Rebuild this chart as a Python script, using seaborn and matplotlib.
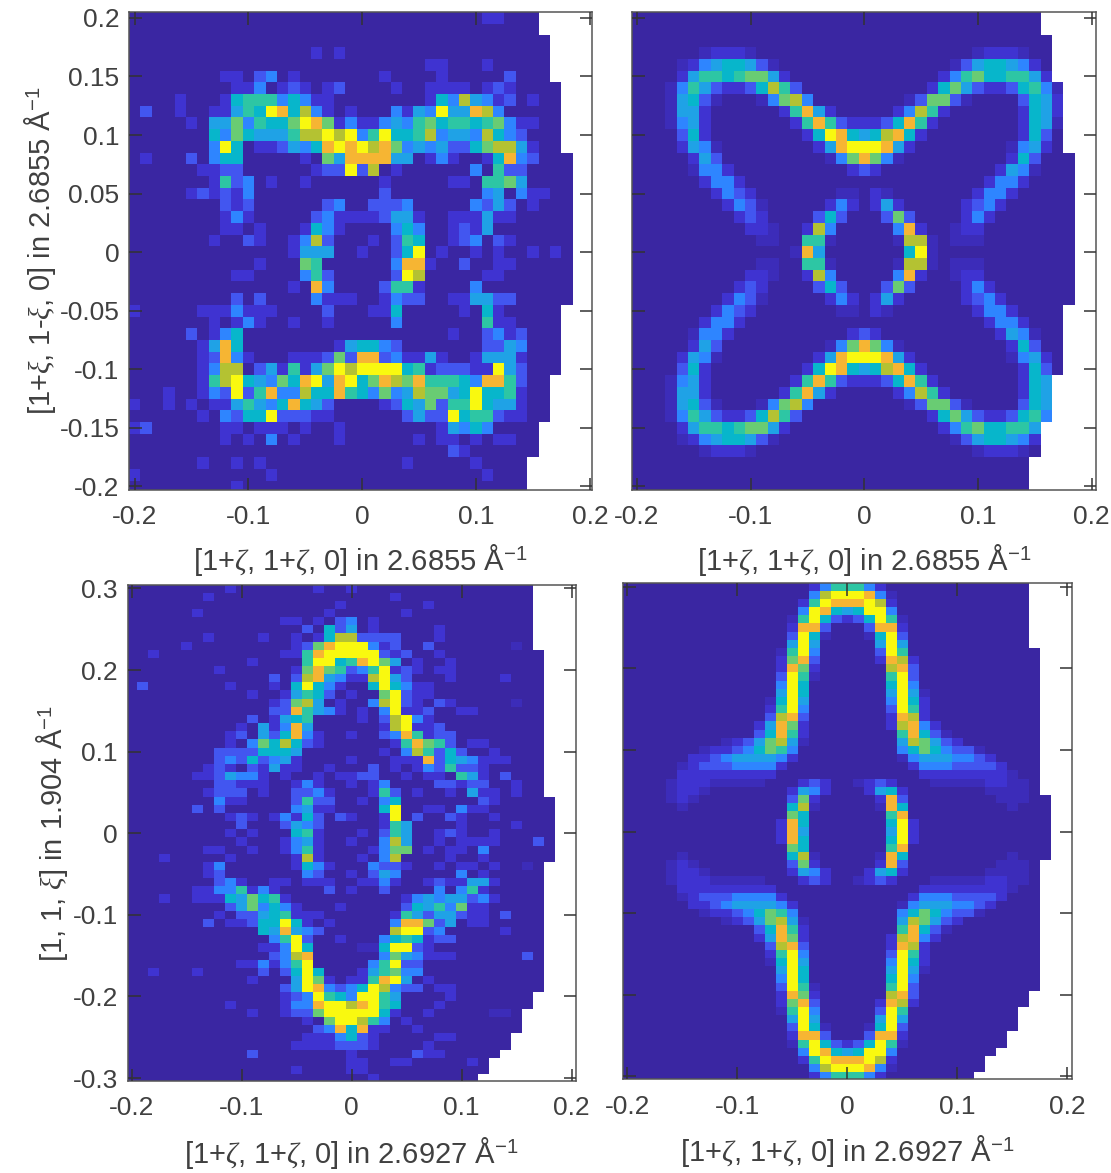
import numpy as np
import pandas as pd
import matplotlib
matplotlib.use("Agg")
import matplotlib.pyplot as plt
from matplotlib.colors import LinearSegmentedColormap
import seaborn as sns

# Intensity levels read per cell: 0-9, a=10, x=0.5; short rows continue with 0, cells past the row width are empty
WIDTHS_TOP = [36]*2 + [37]*4 + [38]*6 + [39]*13 + [38]*6 + [37]*4 + [36]*3 + [35]*3
WIDTHS_BOTTOM = [37]*8 + [38]*18 + [39]*8 + [38]*16 + [37]*2 + [36]*3 + [35]*2 + [34] + [33]*2 + [32]

ROWS_A = [
"00000 00000 00000 00000 00000 00000 01100",
"",
"",
"00000 00000 00000 01010",
"00000 00000 00000 00000 00000 01100 01000",
"00000 00011 02301 00000 00100 00100 00020",
"00000 00001 13012 10120 00010 01111 01210",
"00001 00015 66635 31100 00000 01538 43120 10000",
"02001 00114 65a95 83101 00031 43a44 98300",
"00000 10447 36557 a9713 11343 67566 56731 10000",
"00000 00537 54446 88a8a 36a55 68344 38532",
"00000 003a5 01124 359a9 a8973 43422 57884 10000",
"01000 20355 00000 10749 99944 01310 01593 20000",
"00000 01122 00000 0122a 28010 00000 30622",
"00000 00162 30100 10000 00100 00011 06674",
"00000 12121 30000 00000 00200 00000 03403 11000",
"00000 00021 20000 00230 02223 00000 32420 10000",
"00000 00013 10000 02311 11244 10011 14110",
"00000 00011 01000 15310 00035 30012 14000",
"00000 00100 21001 38200 01026 50012 30210",
"00000 00000 00001 44400 10025 a0100 10100 10100",
"00000 00000 01000 76000 00039 91002 00110",
"00000 00001 10000 36200 0002a 80000 01100",
"00000 00000 00001 09300 00266 10000 30000",
"00000 00002 02000 03111 00132 20011 44220",
"10000 01113 11100 00200 01150 00001 05100",
"00000 00101 31001 00100 00030 00000 06110",
"00000 20135 00000 00000 00000 00010 02312",
"00000 01495 00000 00014 55320 00000 02243",
"00000 01293 10001 11272 99231 14100 14441",
"00000 01388 02416 147a8 aaaa5 61222 11a42",
"00000 0168a 54375 9a49a 57987 96665 39962",
"00010 0132a 26933 85596 53734 87745 a5561",
"10010 10114 64359 54200 00125 47266 a5441",
"00000 01032 55a22 21100 00002 422a5 66211",
"12000 00011 01110 10010 00000 00143 53000",
"00000 00010 10301 00010 00000 10110 10110",
"00000 00000 00000 00000 00000 00021",
"00000 01001 01000 00000 00001 00000 10000",
"10000 00000 00100 00000 00000 00000 01000",
"00000 00001",
]

B_UPPER = [
"", "", "",
"00000 0x111 x0000 00000 00000 00000 x111x",
"0000x 13455 42x00 00000 00000 000x2 45543 1",
"00001 46656 77410 00000 00000 00136 75566 41",
"000x3 64211 25862 00000 00000 01574 21125 63x",
"000x4 52x00 0x378 30000 0000x 2772x 00002 541",
"000x4 41000 00016 94100 00013 86100 00001 541",
"000x3 41000 00001 69621 11259 61000 00001 54x",
"00002 51000 00000 15a95 45895 10000 00001 52",
"00001 43x00 00000 0149a aa941 00000 000x3 41",
"00000 14200 00000 00x37 973x0 00000 00015 2",
"00000 x3310 00000 00001 21000 00000 00143 x",
"00000 01331 00000 00000 00000 00000 01331",
"00000 00132 10000 000xx 01x00 00000 13310",
"00000 00013 2x000 00131 01410 00001 23100",
"00000 00001 21000 02520 00272 00001 31000",
"00000 00000 11x00 18300 00039 100x1 10000",
"00000 00000 0xx00 66x00 000x8 8x0xx x0000",
]
B_MIDDLE = ["00000 00000 0000x 94000 00005 ax000"]
ROWS_B = B_UPPER + B_MIDDLE + B_UPPER[::-1]

ROWS_C = [
"00000 00001 00000 00100 10000",
"00000 00100 00000 00000 00001",
"00000 00000 00000 00001 00000 00100",
"00000 01000 00000 00010 00000 10000",
"00000 00000 00001 10102 30100",
"00000 00000 00000 02052 40100 00010",
"00000 00100 00100 10158 82222 00010",
"00000 10000 00000 1279a aa312 00200 00000 x0000",
"00100 00000 00001 169aa aaa21 20010",
"00000 00000 01000 06aa5 69a74 01001",
"00000 00010 00000 17976 236a1 21011",
"00000 00000 00020 28943 118a4 20001 00001",
"02000 00001 00010 5a531 005a5 31100",
"00000 00000 01001 46520 1007a 21100",
"00000 00000 00012 78401 0038a 21021 00000 x0000",
"00000 00000 00022 96431 0103a 11200 11000",
"00000 00000 02014 56000 01028 a3100",
"00000 00000 10413 94000 00018 a1120",
"00000 00001 20425 93100 10023 96122",
"00000 00001 03758 52100 00001 69762 01100",
"00000 00022 22555 40000 00010 38625 20010",
"00000 00023 25234 10000 10001 11925 43111",
"00000 00121 02141 10010 00201 01326 22100",
"00000 01124 33101 00101 12200 10110 64102",
"00000 00022 11100 13100 10130 00022 12200 10000",
"00000 00122 20100 22310 00162 01001 04110 10000",
"00000 00031 10000 26220 01035 00000 00210",
"00000 02020 00000 34110 0005a 00110 31100",
"00000 00001 21013 15202 1001a 02002 10010",
"00000 00000 20002 43200 00016 40000 10000 10000",
"00000 00001 01000 56100 01026 40012 10010",
"00000 00000 10001 34100 10038 40010 11110 00200",
"00000 00110 01001 36100 00137 70101 10300",
"00010 00001 00000 18100 01038 00001 00100",
"00000 00130 00000 15310 00322 10010 11010 0x000",
"00000 00120 00000 03200 10243 00000 30100",
"00000 00023 10011 01110 01131 00121 14410",
"00000 01133 61310 00020 10020 00030 36100",
"00010 01115 47561 00000 00000 13434 42310",
"00000 00002 47353 10001 00000 25463 71100",
"00000 00010 22456 11100 00001 64244 21102",
"00000 00201 1255a 51010 00003 99724 01100",
"00000 00000 00549 43200 00008 aa230 00001",
"00000 00000 00036 a2001 00035 65122",
"00000 00000 00113 a5000 0xx5a a2100",
"00000 00000 00023 89000 00037 43111 00000 02000",
"00000 00000 11313 6a000 0036a 22000",
"00100 01000 00202 5a500 01467 33000",
"00000 00000 01000 4a710 1169a 40100",
"00000 00000 00002 4a932 35a83 22011",
"00000 00000 00001 23a65 3aa64 00001",
"00000 00001 00001 339aa 89a65 00010",
"00000 00000 01001 227aa aaa51 00100 000xx",
"00000 00000 00000 0107a a8630 10000",
"00000 00000 00000 00239 59110 01000",
"00000 00000 00000 01113 52100 00011",
"00000 00000 00000 11112 22100 00100",
"00000 00000 02000 00000 10000 02110",
"00000 00000 00000 00000 11001 10000 01000",
"00000 00000 00000 10000 11000",
"00000 00000 00000 00000 00100",
]

D_UPPER = [
"00000 00000 00000 00136 66310",
"00000 00000 00000 0038a aa93x",
"00000 00000 00000 016a9 99a81",
"00000 00000 00000 03a95 45aa3",
"00000 00000 00000 x6a52 125a6 x",
"00000 00000 00000 19920 00299 1",
"00000 00000 00000 2a5x0 00x5a 2",
"00000 00000 00000 4a400 0004a 4",
"00000 00000 0000x 6a300 0002a 6",
"00000 00000 00001 79200 00019 81",
"00000 00000 00001 97100 00008 92",
"00000 00000 00002 a6x00 00006 a2",
"00000 00000 00003 a5000 00005 a3",
"00000 00000 00004 a5000 00004 a4x",
"00000 00000 000x5 a4000 00003 a51",
"00000 00000 00016 a3000 00002 a61",
"00000 00000 00028 92000 00001 981",
"00000 00000 00149 71000 00001 8931",
"00000 00000 00259 61000 00000 6952x",
"00000 0000x 12478 4x000 00000 48742 1",
"00000 00x11 23576 30000 00000 35753 22x",
"00000 01123 44443 10000 00000 x3444 3321",
"00000 x1222 33331 00000 00000 01333 22221",
"00000 11111 11110 00000 00000 00111 11111 x",
"0000x 111xx xxx00 01210 0x121 000xx xxx11 xx",
"0000x 11x00 00000 14310 00145 10000 000xx xx",
"0000x 1x000 00000 27100 00019 20000 0000x xx",
"00000 x0000 00000 58x00 000x9 50000 00000 x",
"00000 00000 00000 75000 00006 90000",
"00000 00000 00001 95000 00005 a1",
]
D_MIDDLE = ["00000 00000 00001 94000 00004 a1"]
ROWS_D = D_UPPER + D_MIDDLE + D_UPPER[::-1]

TICKS_X = [-0.2, -0.1, 0, 0.1, 0.2]
TICKS_Y_TOP = [0.2, 0.15, 0.1, 0.05, 0, -0.05, -0.1, -0.15, -0.2]
TICKS_Y_BOTTOM = [0.3, 0.2, 0.1, 0, -0.1, -0.2, -0.3]
XLABEL_TOP = r"[1+$\zeta$, 1+$\zeta$, 0] in 2.6855 Å$^{\mathrm{-1}}$"
XLABEL_BOTTOM = r"[1+$\zeta$, 1+$\zeta$, 0] in 2.6927 Å$^{\mathrm{-1}}$"
YLABEL_TOP = r"[1+$\xi$, 1-$\xi$, 0] in 2.6855 Å$^{\mathrm{-1}}$"
YLABEL_BOTTOM = r"[1, 1, $\xi$] in 1.904 Å$^{\mathrm{-1}}$"

W, H = 1111, 1173
sns.set_theme(style="white")
plt.rcParams["font.family"] = ["Liberation Sans", "DejaVu Sans"]
plt.rcParams["mathtext.fontset"] = "custom"
plt.rcParams["mathtext.rm"] = "Liberation Sans"
plt.rcParams["mathtext.it"] = "Liberation Serif:italic"
plt.rcParams["mathtext.bf"] = "Liberation Sans:bold"

COLORS = ["#3A26A2", "#3F33D2", "#4256F0", "#2E86FF", "#1FA2E6", "#06B6CC",
          "#2DC6A4", "#68CC74", "#B4C232", "#F6B434", "#F9F90F"]
cmap = LinearSegmentedColormap.from_list("parula_like", [(i / 10, c) for i, c in enumerate(COLORS)])
cmap.set_bad("white")

LEVELS = {"x": 0.5, "a": 10.0, **{str(i): float(i) for i in range(10)}}


def grid(rows, widths, ncols=41):
    out = np.full((len(rows), ncols), np.nan)
    for r, (row, width) in enumerate(zip(rows, widths)):
        chars = row.replace(" ", "").ljust(width, "0")[:width]
        out[r, :width] = [LEVELS[c] for c in chars]
    return out


def panel(rows, widths, box, xlim, ylim, yticks, half_y, ylabel_on, xlabel, label_y, ylabel=None, ylab_x=None):
    left, right, top, bottom = box
    ax = fig.add_axes([left / W, 1 - bottom / H, (right - left) / W, (bottom - top) / H])
    frame = pd.DataFrame(grid(rows, widths))
    sns.heatmap(frame, ax=ax, cmap=cmap, vmin=0, vmax=10, cbar=False,
                xticklabels=False, yticklabels=False)
    ax.set_xticks([(v + 0.205) / 0.01 for v in TICKS_X], labels=[f"{v:g}" for v in TICKS_X], rotation=0)
    ax.set_yticks([(half_y - v) / 0.01 for v in yticks],
                  labels=[f"{v:g}" for v in yticks] if ylabel_on else [""] * len(yticks), rotation=0)
    ax.set_xlim(*xlim)
    ax.set_ylim(*ylim)
    ax.set_axisbelow(False)
    ax.tick_params(axis="both", which="major", direction="in", length=9, width=1.1, color="#333333",
                   labelcolor="#404040", labelsize=19, top=True, right=True, bottom=True, left=True,
                   pad=11)
    ax.tick_params(axis="y", pad=7)
    for s in ax.spines.values():
        s.set_visible(True)
        s.set_linewidth(1.1)
        s.set_color("#555555")
    ax.set_xlabel(xlabel, fontsize=21, color="#404040")
    ax.xaxis.set_label_coords(0.5, -(label_y - bottom) / (bottom - top))
    ax.xaxis.label.set_verticalalignment("center")
    if ylabel:
        ax.set_ylabel(ylabel, fontsize=21, color="#404040")
        ax.yaxis.set_label_coords((ylab_x - left) / (right - left), 0.5)
        ax.yaxis.label.set_verticalalignment("center")
    return ax


fig = plt.figure(figsize=(W / 100, H / 100), dpi=100, facecolor="white")
panel(ROWS_A, WIDTHS_TOP, (129, 592, 12, 490), (0, 40.69), (40.8, 0), TICKS_Y_TOP, 0.205, True,
      XLABEL_TOP, 560, YLABEL_TOP, 40)
panel(ROWS_B, WIDTHS_TOP, (632, 1095.7, 12, 490), (0.07, 40.85), (40.8, 0), TICKS_Y_TOP, 0.205, False,
      XLABEL_TOP, 560)
panel(ROWS_C, WIDTHS_BOTTOM, (127.7, 575.7, 585.3, 1081), (0.14, 40.86), (60.86, 0.11), TICKS_Y_BOTTOM, 0.305, True,
      XLABEL_BOTTOM, 1153, YLABEL_BOTTOM, 52)
panel(ROWS_D, WIDTHS_BOTTOM, (622.7, 1072, 582.7, 1079.3), (0.1, 40.95), (60.86, 0), TICKS_Y_BOTTOM, 0.305, False,
      XLABEL_BOTTOM, 1151)
fig.savefig("out.png", dpi=100, facecolor="white")
